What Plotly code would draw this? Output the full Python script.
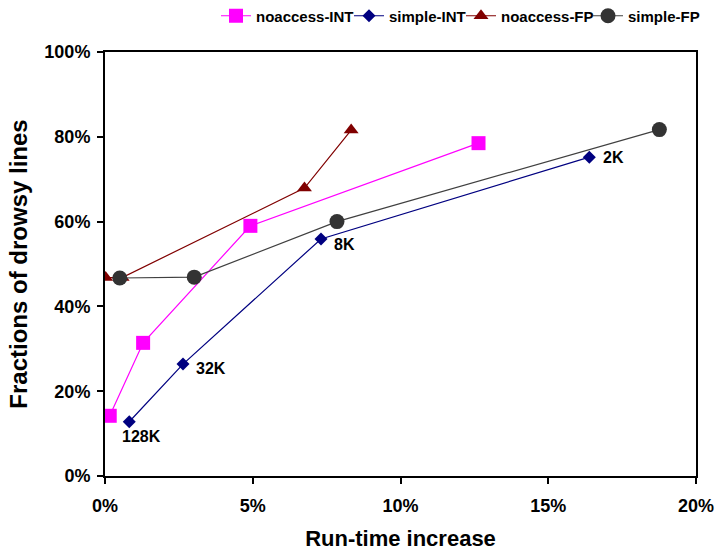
import plotly.graph_objects as go

# Run-time increase (%) and fraction of drowsy lines (%)
noaccess_int_x = [0.16, 1.29, 4.92, 12.64]
noaccess_int_y = [14.2, 31.4, 59.0, 78.5]

simple_int_x = [0.82, 2.64, 7.31, 16.39]
simple_int_y = [12.8, 26.4, 55.9, 75.2]
simple_int_labels = ["128K", "32K", "8K", "2K"]

noaccess_fp_x = [0.02, 0.58, 6.75, 8.33]
noaccess_fp_y = [46.8, 46.8, 67.9, 81.6]

simple_fp_x = [0.50, 3.02, 7.85, 18.76]
simple_fp_y = [46.7, 46.9, 60.0, 81.7]

x_ticks = [0, 5, 10, 15, 20]
y_ticks = [0, 20, 40, 60, 80, 100]

FONT = "Liberation Sans, Arial, sans-serif"
W, H = 717, 552

fig = go.Figure()
fig.add_trace(go.Scatter(
    x=noaccess_int_x, y=noaccess_int_y, name="noaccess-INT", mode="lines+markers",
    line=dict(color="#FF00FF", width=1.2), legend="legend",
    marker=dict(symbol="square", size=14, color="#FF00FF")))
fig.add_trace(go.Scatter(
    x=simple_int_x, y=simple_int_y, name="simple-INT", mode="lines+markers",
    line=dict(color="#000080", width=1.2), legend="legend2",
    marker=dict(symbol="diamond", size=10, color="#000080")))
fig.add_trace(go.Scatter(
    x=noaccess_fp_x, y=noaccess_fp_y, name="noaccess-FP", mode="lines+markers",
    line=dict(color="#800000", width=1.2), legend="legend3",
    marker=dict(symbol="triangle-up", size=13, color="#800000")))
fig.add_trace(go.Scatter(
    x=simple_fp_x, y=simple_fp_y, name="simple-FP", mode="lines+markers",
    line=dict(color="#404040", width=1.2), legend="legend4",
    marker=dict(symbol="circle", size=15, color="#333333")))

# size labels on simple-INT points
label_offsets = [(12, -15), (11, -4), (11, -6), (12, 0)]
for i, (xv, yv, txt) in enumerate(zip(simple_int_x, simple_int_y, simple_int_labels)):
    dx, dy = label_offsets[i]
    fig.add_annotation(x=xv, y=yv, text=txt, showarrow=False,
                       xanchor="center" if i == 0 else "left",
                       yanchor="middle", xshift=dx, yshift=dy,
                       font=dict(family=FONT, size=16, color="black", weight="bold"))

def legend_at(text_start_px):
    return dict(orientation="h", xref="container", yref="container",
                x=(text_start_px - 40) / W, xanchor="left",
                y=1 - 16 / H, yanchor="middle",
                font=dict(family=FONT, size=15, color="black", weight="bold"),
                itemwidth=30, bgcolor="rgba(0,0,0,0)", borderwidth=0)

fig.update_layout(
    width=W, height=H,
    margin=dict(l=104.5, r=21, t=52, b=75.5),
    paper_bgcolor="white", plot_bgcolor="white",
    font=dict(family=FONT, color="black"),
    showlegend=True,
    legend=legend_at(256),
    legend2=legend_at(389),
    legend3=legend_at(501),
    legend4=legend_at(628),
    xaxis=dict(range=[0, 20], tickvals=x_ticks, ticktext=["%d%%" % v for v in x_ticks],
               showgrid=False, zeroline=False, showline=True, linecolor="black", linewidth=2,
               mirror=True, ticks="outside", ticklen=6, tickwidth=2, tickcolor="black",
               automargin=False, ticklabelstandoff=6,
               tickfont=dict(family=FONT, size=18, color="black", weight="bold"),
               title=dict(text="Run-time increase",
                          font=dict(family=FONT, size=22, color="black", weight="bold"),
                          standoff=16)),
    yaxis=dict(range=[0, 100], tickvals=y_ticks, ticktext=["%d%%" % v for v in y_ticks],
               showgrid=False, zeroline=False, showline=True, linecolor="black", linewidth=2,
               mirror=True, ticks="outside", ticklen=6, tickwidth=2, tickcolor="black",
               automargin=False, ticklabelstandoff=3,
               tickfont=dict(family=FONT, size=18, color="black", weight="bold"),
               title=dict(text="Fractions of drowsy lines",
                          font=dict(family=FONT, size=24, color="black", weight="bold"),
                          standoff=10)),
)

fig.write_html("out.html", config={"displayModeBar": False},
               post_script="document.body.style.margin='0';")
